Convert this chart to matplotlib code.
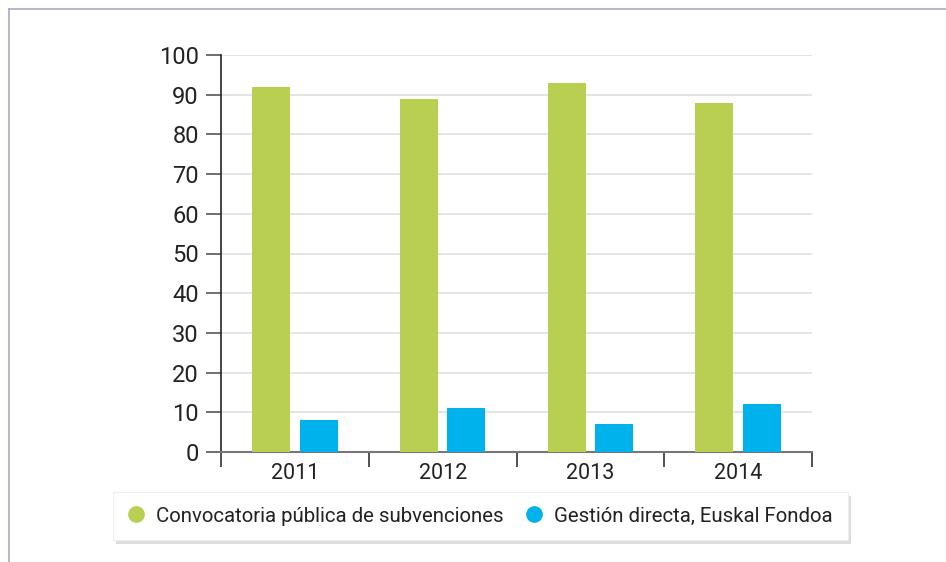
import numpy as np
import matplotlib.pyplot as plt
from matplotlib.patches import Rectangle
from matplotlib.lines import Line2D

years = ['2011', '2012', '2013', '2014']
convocatoria = [92, 89, 93, 88]
gestion = [8, 11, 7, 12]
series_names = ['Convocatoria pública de subvenciones', 'Gestión directa, Euskal Fondoa']

green = '#b8cf52'
blue = '#00b2eb'

plt.rcParams['font.family'] = ['Roboto', 'DejaVu Sans']

W, H = 946, 562
fig = plt.figure(figsize=(W / 100, H / 100), dpi=100)

# outer frame (top and left edges only visible)
fig.add_artist(Line2D([9 / W, 1], [1 - 9 / H, 1 - 9 / H], color='#aaa8c8', lw=1.2))
fig.add_artist(Line2D([9 / W, 9 / W], [0, 1 - 9 / H], color='#aaa8c8', lw=1.2))

ax = fig.add_axes([221 / W, 1 - 452 / H, (812 - 221) / W, (452 - 55) / H])

x = np.arange(len(years))
w = 0.257
ax.bar(x - 0.16, convocatoria, w, color=green, zorder=3)
ax.bar(x + 0.16, gestion, w, color=blue, zorder=3)

ax.set_xlim(-0.5, len(years) - 0.5)
ax.set_ylim(0, 100)
ax.set_yticks(range(0, 101, 10))
ax.yaxis.grid(True, color='#e2e2e2', lw=1.3, zorder=0)
ax.set_axisbelow(True)

ax.set_xticks(np.arange(-0.5, len(years), 1))
ax.set_xticklabels([])
ax.set_xticks(x, minor=True)
ax.set_xticklabels(years, minor=True)
ax.tick_params(axis='x', which='major', length=10.5, width=1.2, color='#333333')
ax.tick_params(axis='x', which='minor', length=0, labelsize=15.5, pad=8, labelcolor='#222222')
ax.tick_params(axis='y', length=11, width=1.2, color='#555555', labelsize=17,
               pad=5, labelcolor='#222222')

for s in ['top', 'right']:
    ax.spines[s].set_visible(False)
ax.spines['left'].set_color('#222222')
ax.spines['left'].set_linewidth(1.2)
ax.spines['bottom'].set_color('#777777')
ax.spines['bottom'].set_linewidth(1.5)

# legend box with soft shadow
bx0, by0, bx1, by1 = 113, 492, 848, 540
fig.add_artist(Rectangle(((bx0 + 3) / W, 1 - (by1 + 4) / H), (bx1 - bx0) / W, (by1 - by0) / H,
                         transform=fig.transFigure, facecolor='#dcdcdc', edgecolor='none'))
fig.add_artist(Rectangle((bx0 / W, 1 - by1 / H), (bx1 - bx0) / W, (by1 - by0) / H,
                         transform=fig.transFigure, facecolor='white', edgecolor='#eeeeee', lw=0.8))

handles = [Line2D([], [], marker='o', ls='none', color=green, markersize=11),
           Line2D([], [], marker='o', ls='none', color=blue, markersize=11)]
fig.legend(handles, series_names, loc='center', ncol=2, frameon=False,
           bbox_to_anchor=((bx0 + bx1) / 2 / W - 0.003, 1 - (by0 + by1) / 2 / H),
           fontsize=14.7, handlelength=1.3, handletextpad=0.3, columnspacing=0.85,
           labelcolor='#222222')

fig.savefig('out.png', dpi=100)
